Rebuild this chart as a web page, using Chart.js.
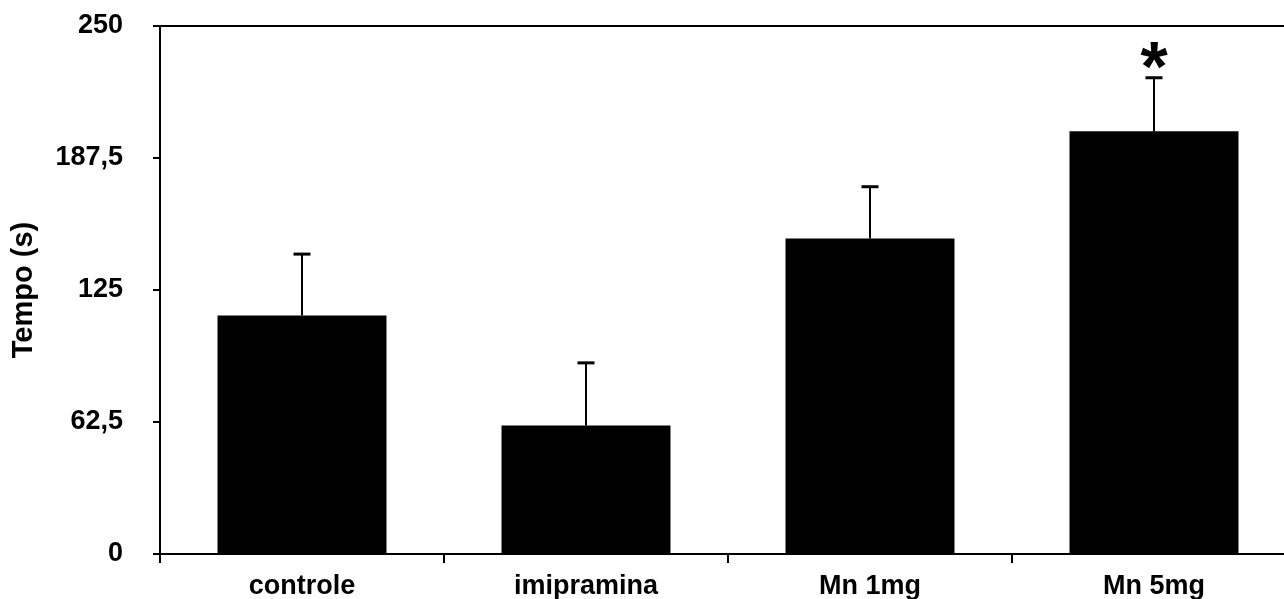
<!DOCTYPE html>
<html>
<head>
<meta charset="utf-8">
<script src="https://cdn.jsdelivr.net/npm/chart.js@4.4.1/dist/chart.umd.min.js"></script>
<style>
  html, body { margin: 0; padding: 0; background: #fff; overflow: hidden; }
  #wrap { width: 1300px; height: 599px; }
</style>
</head>
<body>
<div id="wrap"><canvas id="c" width="1300" height="599"></canvas></div>
<script>
// Groups on the x axis
const categories = ['controle', 'imipramina', 'Mn 1mg', 'Mn 5mg'];
// Mean time per group (s)
const means = [112.9, 60.8, 149.4, 200.2];
// Standard error per group (s)
const errors = [29.1, 29.7, 24.5, 25.3];
// Significance marks above each group
const marks = ['', '', '', '*'];
// Y axis tick values
const yTicks = [0, 62.5, 125, 187.5, 250];

const FONT = '"Liberation Sans", Arial, sans-serif';

// Upper error bars with caps, plus significance marks
const errorBarPlugin = {
  id: 'errorBars',
  afterDatasetsDraw(chart) {
    const { ctx, scales: { x, y } } = chart;
    ctx.save();
    ctx.strokeStyle = '#000';
    ctx.fillStyle = '#000';
    means.forEach((m, i) => {
      const px = Math.round(x.getPixelForValue(i));
      const yTop = y.getPixelForValue(m + errors[i]);
      const yBar = y.getPixelForValue(m);
      ctx.lineWidth = 2;
      ctx.beginPath();
      ctx.moveTo(px, yBar);
      ctx.lineTo(px, yTop);
      ctx.stroke();
      ctx.lineWidth = 3;
      ctx.beginPath();
      ctx.moveTo(px - 8.5, yTop);
      ctx.lineTo(px + 8.5, yTop);
      ctx.stroke();
      if (marks[i]) {
        ctx.font = 'bold 70px ' + FONT;
        ctx.textAlign = 'center';
        ctx.textBaseline = 'alphabetic';
        ctx.fillText(marks[i], px, yTop + 13);
      }
    });
    ctx.restore();
  }
};

// Top frame line of the plot area
const frameTopPlugin = {
  id: 'frameTop',
  afterDraw(chart) {
    const { ctx, chartArea } = chart;
    ctx.save();
    ctx.strokeStyle = '#000';
    ctx.lineWidth = 2;
    ctx.beginPath();
    ctx.moveTo(chartArea.left, chartArea.top);
    ctx.lineTo(chartArea.right, chartArea.top);
    ctx.stroke();
    ctx.restore();
  }
};

new Chart(document.getElementById('c'), {
  type: 'bar',
  data: {
    labels: categories,
    datasets: [{
      data: means,
      backgroundColor: '#000',
      borderWidth: 0,
      categoryPercentage: 1,
      barPercentage: 0.595
    }]
  },
  options: {
    responsive: false,
    animation: false,
    layout: { padding: { top: 26, right: 4, bottom: 0, left: 0 } },
    plugins: { legend: { display: false }, tooltip: { enabled: false } },
    scales: {
      x: {
        grid: { display: true, drawOnChartArea: false, offset: true, color: '#000', lineWidth: 2, tickLength: 9 },
        border: { display: true, color: '#000', width: 2 },
        ticks: { color: '#000', font: { family: FONT, size: 27, weight: 'bold' }, padding: 7, maxRotation: 0, autoSkip: false },
        afterFit(scale) {
          scale.height = 45;
          scale.paddingLeft = 0;
          scale.paddingRight = 0;
        }
      },
      y: {
        min: 0,
        max: 250,
        afterBuildTicks(scale) { scale.ticks = yTicks.map(v => ({ value: v })); },
        grid: { drawOnChartArea: false, color: '#000', tickColor: '#000', lineWidth: 2, tickLength: 7 },
        border: { display: true, color: '#000', width: 2 },
        ticks: {
          color: '#000',
          font: { family: FONT, size: 27, weight: 'bold' },
          padding: 30,
          callback: v => String(v).replace('.', ',')
        },
        title: {
          display: true,
          text: 'Tempo (s)',
          color: '#000',
          font: { family: FONT, size: 29, weight: 'bold' },
          padding: { top: 7, bottom: 4 }
        },
        afterFit(scale) {
          scale.width = 160;
          scale.paddingTop = 0;
          scale.paddingBottom = 0;
        }
      }
    }
  },
  plugins: [errorBarPlugin, frameTopPlugin]
});
</script>
</body>
</html>
